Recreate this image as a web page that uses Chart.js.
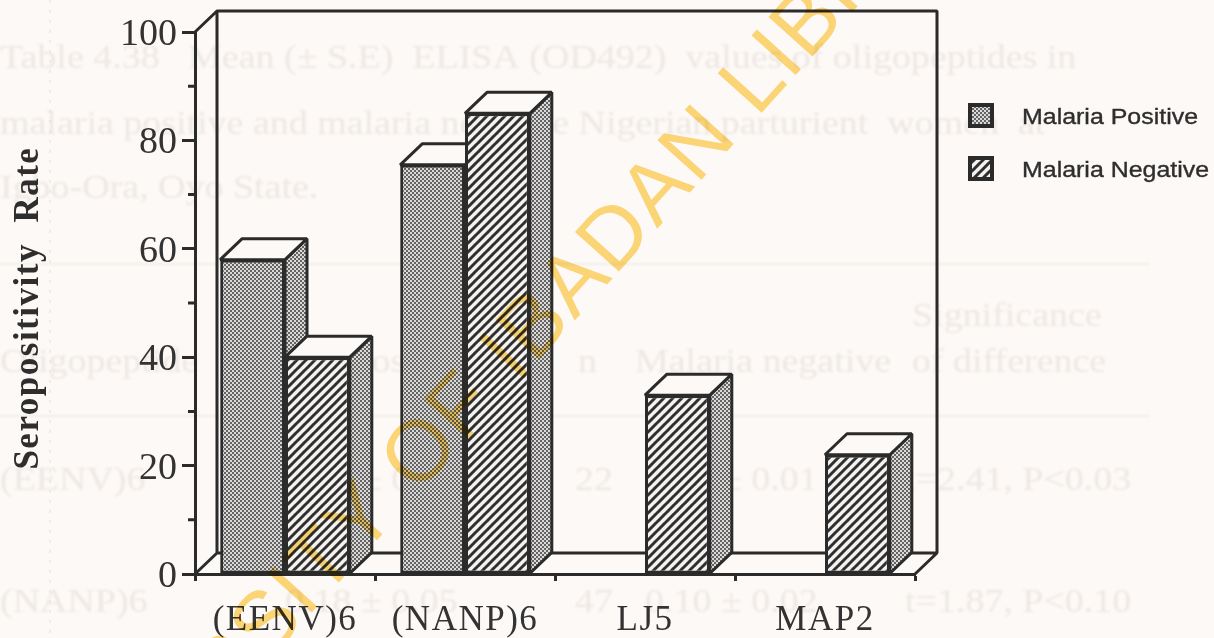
<!DOCTYPE html>
<html><head><meta charset="utf-8">
<style>html,body{margin:0;padding:0;background:#fdf9f6}canvas{display:block}</style>
<script src="https://cdn.jsdelivr.net/npm/chart.js@4"></script>
</head><body><canvas id="c" width="1214" height="638"></canvas>
<script>
const categories = ['(EENV)6', '(NANP)6', 'LJ5', 'MAP2'];
const malariaPositive = [58, 75.5, null, null];
const malariaNegative = [40, 85, 33, 22];
const seriesNames = ['Malaria Positive', 'Malaria Negative'];
const yAxisTitle = 'Seropositivity  Rate ';
const watermark = 'UNIVERSITY OF IBADAN LIBRARY';
const ghostLines = [
  ['Table 4.38   Mean (± S.E)  ELISA (OD492)  values of oligopeptides in', 0, 68],
  ['malaria positive and malaria negative Nigerian parturient  women  at', 0, 134],
  ['Igbo-Ora, Oyo State.', 0, 198],
  ['Significance', 912, 326],
  ['Oligopeptide', 0, 372], ['Malaria positive', 225, 372], ['n', 578, 372], ['Malaria negative', 635, 372], ['of difference', 912, 372],
  ['(EENV)6', 0, 490], ['0.19 ± 0.03', 285, 490], ['22', 575, 490], ['0.13 ± 0.01', 645, 490], ['t=2.41, P<0.03', 905, 490],
  ['(NANP)6', 0, 612], ['0.18 ± 0.05', 285, 612], ['47', 575, 612], ['0.10 ± 0.02', 645, 612], ['t=1.87, P<0.10', 905, 612]
];

const INK = '#2b2b2b', PAPER = '#fdf9f6', DX = 22, DY = 21;

function dotPattern() {
  const t = document.createElement('canvas'); t.width = t.height = 4;
  const g = t.getContext('2d');
  g.fillStyle = '#dcdad8'; g.fillRect(0, 0, 4, 4);
  g.fillStyle = '#646464'; g.fillRect(0, 0, 2, 2); g.fillRect(2, 2, 2, 2);
  return g.createPattern(t, 'repeat');
}
function hatchPattern() {
  const s = 9, t = document.createElement('canvas'); t.width = t.height = s;
  const g = t.getContext('2d');
  g.fillStyle = '#f4f2f0'; g.fillRect(0, 0, s, s);
  g.strokeStyle = '#2f2f2f'; g.lineWidth = 3;
  for (const o of [-s, 0, s]) { g.beginPath(); g.moveTo(o - 1, s + 1); g.lineTo(o + s + 1, -1); g.stroke(); }
  return g.createPattern(t, 'repeat');
}
const dots = dotPattern(), hatch = hatchPattern();

function poly(ctx, pts, fill) {
  ctx.beginPath();
  pts.forEach((p, i) => i ? ctx.lineTo(p[0], p[1]) : ctx.moveTo(p[0], p[1]));
  ctx.closePath();
  ctx.fillStyle = fill; ctx.fill(); ctx.stroke();
}
// Widen the text a scale draws, as the reference scan is stretched sideways
function spaced(scale, method, spacing) {
  if (scale['_w' + method]) return;
  scale['_w' + method] = true;
  const orig = scale[method];
  scale[method] = function (...a) {
    this.ctx.letterSpacing = spacing;
    orig.apply(this, a);
    this.ctx.letterSpacing = '0px';
  };
}

const paper3d = {
  id: 'paper3d',
  beforeDraw(chart) {
    const ctx = chart.ctx;
    ctx.save();
    ctx.fillStyle = PAPER; ctx.fillRect(0, 0, 1214, 638);
    ctx.filter = 'blur(1.3px)';
    ctx.fillStyle = '#ede8e4';
    ctx.font = '33px "Liberation Serif"';
    for (const [t, x, y] of ghostLines) {
      ctx.save(); ctx.translate(x, y); ctx.scale(1.15, 1); ctx.fillText(t, 0, 0); ctx.restore();
    }
    ctx.fillStyle = '#f1ede9';
    ctx.fillRect(0, 263, 1150, 2); ctx.fillRect(0, 415, 1150, 2);
    ctx.filter = 'none';
    ctx.strokeStyle = '#e2dfdc'; ctx.lineWidth = 1; ctx.setLineDash([3, 7]);
    ctx.beginPath(); ctx.moveTo(50, 0); ctx.lineTo(50, 638); ctx.stroke();
    ctx.restore();
  },
  beforeDatasetsDraw(chart) {
    const { ctx, chartArea: a, scales: { y } } = chart;
    ctx.save();
    ctx.strokeStyle = INK; ctx.lineWidth = 3; ctx.lineJoin = 'bevel';
    ctx.beginPath();
    ctx.moveTo(a.left, a.top); ctx.lineTo(a.left + DX, a.top - DY); ctx.lineTo(a.right + DX, a.top - DY);
    ctx.lineTo(a.right + DX, a.bottom - DY); ctx.lineTo(a.left + DX, a.bottom - DY); ctx.lineTo(a.left + DX, a.top - DY);
    ctx.moveTo(a.left, a.bottom); ctx.lineTo(a.left + DX, a.bottom - DY);
    ctx.moveTo(a.right, a.bottom); ctx.lineTo(a.right + DX, a.bottom - DY);
    ctx.stroke();
    ctx.beginPath();
    y.ticks.forEach(t => {
      if (t.value % 20 !== 0) { const p = y.getPixelForValue(t.value); ctx.moveTo(a.left - 7, p); ctx.lineTo(a.left, p); }
    });
    ctx.stroke();
    ctx.restore();
  },
  beforeDatasetDraw() { return false; },
  afterDatasetsDraw(chart) {
    const ctx = chart.ctx;
    chart.data.datasets.forEach((ds, i) => {
      const meta = chart.getDatasetMeta(i);
      ctx.save();
      ctx.strokeStyle = INK; ctx.lineWidth = 3; ctx.lineJoin = 'bevel';
      meta.data.forEach((el, k) => {
        if (ds.data[k] == null) return;
        const { x, y, base, width } = el.getProps(['x', 'y', 'base', 'width'], true);
        const l = x - width / 2, r = x + width / 2;
        poly(ctx, [[r, y], [r + DX, y - DY], [r + DX, base - DY], [r, base]], dots);
        poly(ctx, [[l, y], [l + DX, y - DY], [r + DX, y - DY], [r, y]], PAPER);
      });
      ctx.restore();
      meta.controller.draw();
    });
  },
  afterDraw(chart) {
    const ctx = chart.ctx;
    ctx.save();
    chart.data.datasets.forEach((ds, i) => {
      const top = 103 + i * 53;
      ctx.fillStyle = i ? hatch : dots;
      ctx.fillRect(968, top, 26, 25);
      ctx.strokeStyle = INK; ctx.lineWidth = 4;
      ctx.strokeRect(970, top + 2, 22, 21);
      ctx.save();
      ctx.translate(1022, top + 21);
      ctx.scale(1.16, 1);
      ctx.fillStyle = '#2e2e2e'; ctx.strokeStyle = '#2e2e2e'; ctx.lineWidth = 0.35;
      ctx.font = '21.5px "Liberation Sans"';
      ctx.fillText(ds.label, 0, 0);
      ctx.strokeText(ds.label, 0, 0);
      ctx.restore();
    });
    ctx.restore();
    ctx.save();
    ctx.globalCompositeOperation = 'multiply';
    ctx.font = '86px "Liberation Sans"';
    ctx.letterSpacing = '2px';
    const prefix = ctx.measureText('UNIVERSITY OF IBADAN ').width;
    ctx.translate(757, 118);
    ctx.rotate(-48 * Math.PI / 180);
    ctx.fillStyle = '#fdd97a';
    ctx.fillText(watermark, -prefix, 0);
    ctx.restore();
  }
};

new Chart(document.getElementById('c'), {
  type: 'bar',
  plugins: [paper3d],
  data: {
    labels: categories,
    datasets: [
      { label: seriesNames[0], data: malariaPositive, backgroundColor: dots, borderColor: INK, borderWidth: 3, borderSkipped: false },
      { label: seriesNames[1], data: malariaNegative, backgroundColor: hatch, borderColor: INK, borderWidth: 3, borderSkipped: false }
    ]
  },
  options: {
    responsive: false, animation: false,
    categoryPercentage: 0.72, barPercentage: 1,
    layout: { padding: { top: 32, right: 299, left: 0, bottom: 0 } },
    plugins: { legend: { display: false }, tooltip: { enabled: false } },
    scales: {
      x: {
        afterFit(s) { s.height = 64; spaced(s, 'drawLabels', '1.5px'); },
        grid: { drawOnChartArea: false, tickLength: 7, tickWidth: 3, tickColor: INK },
        border: { color: INK, width: 3 },
        ticks: { color: '#333', padding: 19, maxRotation: 0, autoSkip: false, font: { family: '"Liberation Serif"', size: 35 } }
      },
      y: {
        min: 0, max: 100,
        afterFit(s) { s.width = 195; spaced(s, 'drawTitle', '1.5px'); },
        grid: { drawOnChartArea: false, tickLength: 13, tickWidth: 3,
          tickColor: c => (c.tick && c.tick.value % 20 === 0) ? INK : 'rgba(0,0,0,0)' },
        border: { color: INK, width: 3 },
        title: { display: true, text: yAxisTitle, color: '#2e2e2e', padding: { top: 8, bottom: 0 },
          font: { family: '"Liberation Serif"', size: 35, weight: 'bold' } },
        ticks: { color: '#333', stepSize: 10, padding: 5, autoSkip: false, labelOffset: 3,
          callback: v => v % 20 === 0 ? String(v) : '',
          font: { family: '"Liberation Serif"', size: 38 } }
      }
    }
  }
});
</script></body></html>
